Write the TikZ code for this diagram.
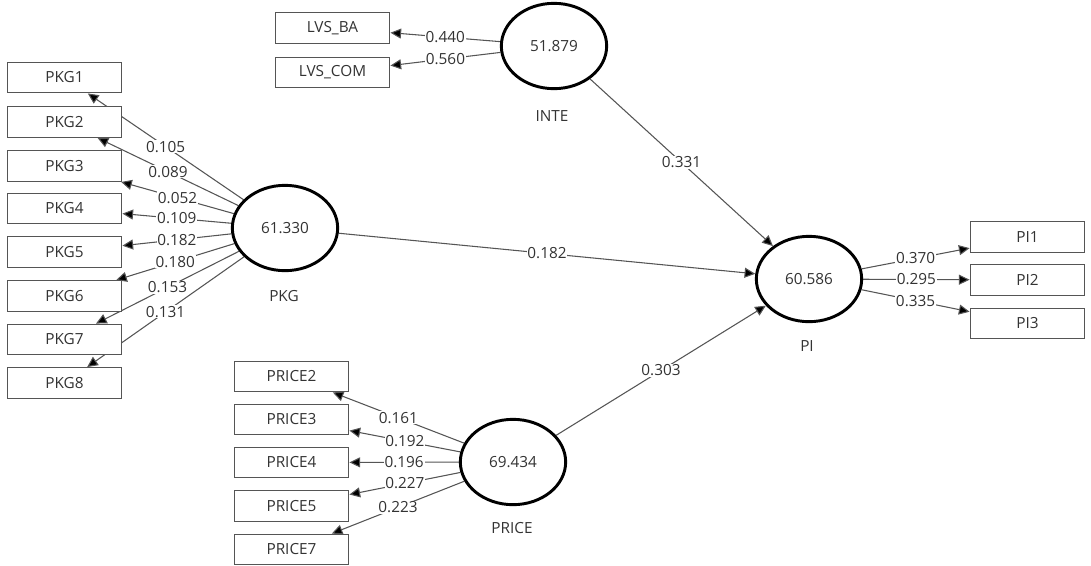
\documentclass[tikz,border=0pt]{standalone}
\usepackage{fontspec}
\setmainfont{Open Sans}
\usetikzlibrary{arrows.meta,shapes.geometric}
\definecolor{txt}{HTML}{333333}
\definecolor{ln}{HTML}{555555}
\pgfdeclarelayer{background}
\pgfsetlayers{background,main}
\begin{document}
\begin{tikzpicture}[x=0.75pt,y=-0.75pt,
  ind/.style={draw=ln,line width=0.9pt,fill=white,minimum width=86pt,minimum height=23pt,inner sep=0pt,font=\fontsize{11.5}{13}\selectfont,text=txt},
  lat/.style={ellipse,draw=black,line width=2.2pt,fill=white,minimum width=79pt,minimum height=64pt,inner sep=0pt,font=\fontsize{11.5}{13}\selectfont,text=txt},
  lvname/.style={font=\fontsize{11.5}{13}\selectfont,text=txt},
  con/.style={draw=ln,line width=0.8pt,-{Triangle[length=8pt,width=7.5pt,fill=black]}},
  wt/.style={fill=white,inner sep=0.6pt,font=\fontsize{11.5}{13}\selectfont,text=txt,pos=0.5}]
\useasboundingbox (0,0) rectangle (1091,565);
% indicator boxes
\node[ind] (pkg1) at (64.5,77.5) {PKG1};
\node[ind] (pkg2) at (64.5,122) {PKG2};
\node[ind] (pkg3) at (64.5,166) {PKG3};
\node[ind] (pkg4) at (64.5,208.5) {PKG4};
\node[ind] (pkg5) at (64.5,252) {PKG5};
\node[ind] (pkg6) at (64.5,296) {PKG6};
\node[ind] (pkg7) at (64.5,339.5) {PKG7};
\node[ind] (pkg8) at (64.5,383) {PKG8};
\node[ind] (lvsba) at (332.5,28) {LVS\_BA};
\node[ind] (lvscom) at (332.5,72.5) {LVS\_COM};
\node[ind] (price2) at (291.5,376.5) {PRICE2};
\node[ind] (price3) at (291.5,419.5) {PRICE3};
\node[ind] (price4) at (291.5,462.5) {PRICE4};
\node[ind] (price5) at (291.5,506) {PRICE5};
\node[ind] (price7) at (291.5,549.5) {PRICE7};
\node[ind] (pi1) at (1027.5,237) {PI1};
\node[ind] (pi2) at (1027.5,280) {PI2};
\node[ind] (pi3) at (1027.5,323.5) {PI3};
% latent variables
\node[lat] (pkg) at (285,228) {61.330};
\node[lat] (inte) at (554,46) {51.879};
\node[lat] (price) at (513,462) {69.434};
\node[lat] (pi) at (809,279) {60.586};
\node[lvname] (pkgl) at (284,296) {PKG};
\node[lvname] (intel) at (552,116) {INTE};
\node[lvname] (pricel) at (512,528) {PRICE};
\node[lvname] (pil) at (807,346) {PI};
% connectors, behind the boxes
\begin{pgfonlayer}{background}
\foreach \t/\v in {pkg1/0.105,pkg2/0.089,pkg3/0.052,pkg4/0.109,pkg5/0.182,pkg6/0.180,pkg7/0.153,pkg8/0.131}
  \draw[con] (pkg) -- node[wt]{\v} (\t);
\draw[con] (inte) -- node[wt]{0.440} (lvsba);
\draw[con] (inte) -- node[wt]{0.560} (lvscom);
\foreach \t/\v in {price2/0.161,price3/0.192,price4/0.196,price5/0.227,price7/0.223}
  \draw[con] (price) -- node[wt]{\v} (\t);
\draw[con] (pi) -- node[wt]{0.370} (pi1);
\draw[con] (pi) -- node[wt]{0.295} (pi2);
\draw[con] (pi) -- node[wt]{0.335} (pi3);
\draw[con] (inte) -- node[wt]{0.331} (pi);
\draw[con] (pkg) -- node[wt]{0.182} (pi);
\draw[con] (price) -- node[wt]{0.303} (pi);
\end{pgfonlayer}
\end{tikzpicture}
\end{document}
